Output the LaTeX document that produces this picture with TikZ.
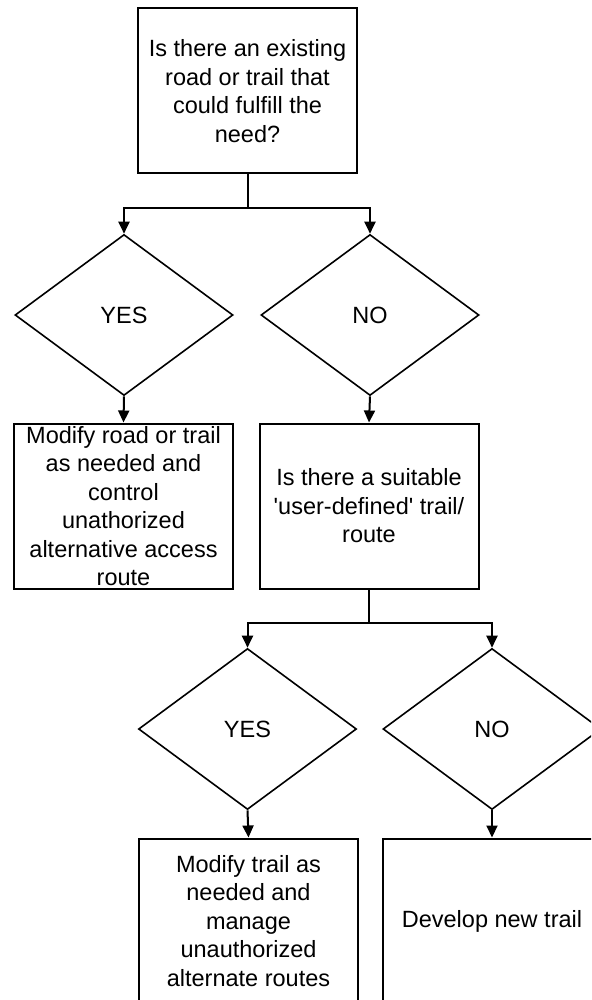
\documentclass[tikz,border=0pt]{standalone}
\usepackage{fontspec}
\setmainfont{Liberation Sans}
\usetikzlibrary{shapes.geometric,arrows.meta}
\begin{document}
\begin{tikzpicture}[x=1pt,y=-1pt,
  txt/.style={font=\fontsize{23.5}{28.5}\selectfont, text=black, align=center},
  box/.style={txt, draw, line width=2pt, rectangle, inner sep=0pt,
              minimum width=219pt, minimum height=165pt},
  dec/.style={txt, draw, line width=1.6pt, diamond, inner sep=0pt,
              minimum width=218pt, minimum height=161pt},
  link/.style={line width=2pt},
  arr/.style={link, -{Triangle[width=11pt,length=12pt]}}]
\useasboundingbox (0,0) rectangle (591,1000);
\clip (0,0) rectangle (591,1000);
\fill[white] (0,0) rectangle (591,1000);

% first question
\node[box] (q1) at (247.5,91) {Is there an existing\\road or trail that\\could fulfill the\\need?};
\coordinate (j1) at (247.5,208);
\node[dec] (y1) at (124,315) {YES};
\node[dec] (n1) at (370,315) {NO};
\node[box] (a1) at (123.5,506) {Modify road or trail\\as needed and\\control\\unathorized\\alternative access\\route};
\node[box] (q2) at (369,506) {Is there a suitable\\\textquotesingle user-defined\textquotesingle\ trail/\\route};

% second question
\coordinate (j2) at (369,623);
\node[dec] (y2) at (247.5,729) {YES};
\node[dec] (n2) at (492,729) {NO};
\node[box] (a2) at (248.5,921) {Modify trail as\\needed and\\manage\\unauthorized\\alternate routes};
\node[box] (a3) at (492,921) {Develop new trail};

% connectors
\draw[link] (q1.south) -- (j1);
\draw[arr] (j1) -| (y1.north);
\draw[arr] (j1) -| (n1.north);
\draw[arr] (y1.south) -- (a1.north);
\draw[arr] (n1.south) -- (q2.north);
\draw[link] (q2.south) -- (j2);
\draw[arr] (j2) -| (y2.north);
\draw[arr] (j2) -| (n2.north);
\draw[arr] (y2.south) -- (a2.north);
\draw[arr] (n2.south) -- (a3.north);
\end{tikzpicture}
\end{document}
